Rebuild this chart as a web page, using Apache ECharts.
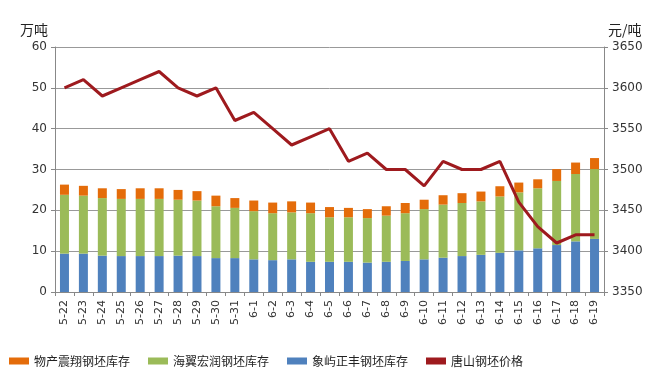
<!DOCTYPE html>
<html><head><meta charset="utf-8">
<script src="https://cdn.jsdelivr.net/npm/echarts@6/dist/echarts.min.js"></script>
<style>html,body{margin:0;padding:0;background:#fff}#c{width:672px;height:384px}</style>
</head><body><div id="c"></div>
<script>
const categories = ['5-22','5-23','5-24','5-25','5-26','5-27','5-28','5-29','5-30','5-31','6-1','6-2','6-3','6-4','6-5','6-6','6-7','6-8','6-9','6-10','6-11','6-12','6-13','6-14','6-15','6-16','6-17','6-18','6-19'];
const xiangyu = [9.4,9.4,8.9,8.8,8.8,8.8,8.9,8.8,8.3,8.3,8.0,7.8,8.0,7.4,7.4,7.4,7.2,7.4,7.6,8.0,8.4,8.8,9.1,9.6,10.2,10.7,11.5,12.4,13.0];
const haiyi = [14.4,14.2,14.1,14.0,14.0,14.0,13.7,13.6,12.7,12.3,11.8,11.5,11.5,11.9,10.9,10.9,10.9,11.3,11.7,12.3,13.0,13.0,13.1,13.8,14.2,14.7,15.7,16.5,17.1];
const wuchan = [2.5,2.4,2.4,2.4,2.6,2.6,2.4,2.3,2.6,2.4,2.6,2.6,2.7,2.6,2.5,2.3,2.2,2.3,2.5,2.3,2.3,2.4,2.4,2.5,2.4,2.2,2.9,2.8,2.7];
const price = [3600,3610,3590,3600,3610,3620,3600,3590,3600,3560,3570,3550,3530,3540,3550,3510,3520,3500,3500,3480,3510,3500,3500,3510,3460,3430,3410,3420,3420];
const leftTicks = {min:0,max:60,interval:10};
const rightTicks = {min:3350,max:3650,interval:50};

const font = '"Noto Sans CJK SC", sans-serif';
const chart = echarts.init(document.getElementById('c'));
chart.setOption({
  animation:false,
  textStyle:{fontFamily:font},
  grid:{left:55,right:68,top:47,bottom:92},
  legend:{
    bottom:12,left:4,itemGap:18,itemWidth:20,itemHeight:7,
    textStyle:{fontFamily:font,fontSize:12,color:'#222'},
    data:[{name:'物产震翔钢坯库存',icon:'rect'},{name:'海翼宏润钢坯库存',icon:'rect'},{name:'象屿正丰钢坯库存',icon:'rect'},{name:'唐山钢坯价格',icon:'rect'}]
  },
  xAxis:{
    type:'category',data:categories,boundaryGap:true,
    axisLine:{lineStyle:{color:'#888'}},
    axisTick:{show:true,length:4,lineStyle:{color:'#888'}},
    axisLabel:{rotate:90,interval:0,fontSize:11,color:'#333',fontFamily:'"DejaVu Sans", sans-serif',margin:8}
  },
  yAxis:[
    {type:'value',name:'万吨',nameGap:10,nameTextStyle:{fontSize:14,color:'#222',align:'right',padding:[0,7,0,0]},
     min:leftTicks.min,max:leftTicks.max,interval:leftTicks.interval,
     axisLine:{show:true,lineStyle:{color:'#888'}},axisTick:{show:true,length:4,lineStyle:{color:'#888'}},
     axisLabel:{fontSize:12,color:'#333',margin:8,fontFamily:'"DejaVu Sans", sans-serif'},
     splitLine:{lineStyle:{color:'#999'}}},
    {type:'value',name:'元/吨',nameGap:10,nameTextStyle:{fontSize:14,color:'#222',align:'left',padding:[0,0,0,4]},
     min:rightTicks.min,max:rightTicks.max,interval:rightTicks.interval,
     axisLine:{show:true,lineStyle:{color:'#888'}},axisTick:{show:true,length:4,lineStyle:{color:'#888'}},
     axisLabel:{fontSize:12,color:'#333',margin:8,fontFamily:'"DejaVu Sans", sans-serif',formatter:v=>String(v)},
     splitLine:{show:false}}
  ],
  series:[
    {name:'象屿正丰钢坯库存',type:'bar',stack:'s',data:xiangyu,barWidth:9,itemStyle:{color:'#4F81BD'}},
    {name:'海翼宏润钢坯库存',type:'bar',stack:'s',data:haiyi,barWidth:9,itemStyle:{color:'#9BBB59'}},
    {name:'物产震翔钢坯库存',type:'bar',stack:'s',data:wuchan,barWidth:9,itemStyle:{color:'#E46C0A'}},
    {name:'唐山钢坯价格',type:'line',yAxisIndex:1,data:price,symbol:'none',lineStyle:{color:'#9E1A1E',width:3},itemStyle:{color:'#9E1A1E'}}
  ]
});
</script></body></html>
